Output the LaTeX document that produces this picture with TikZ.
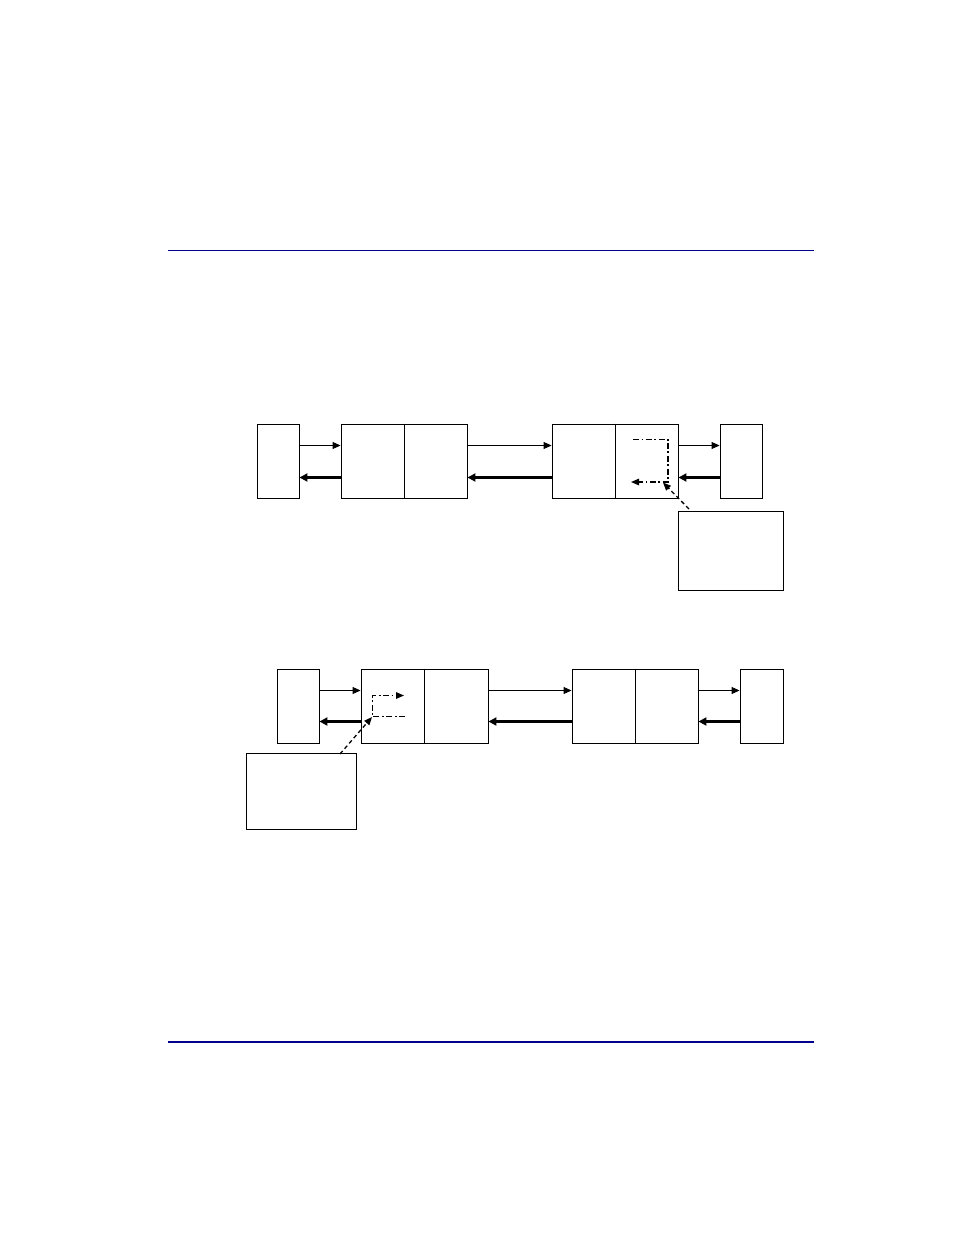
\documentclass[tikz,border=0pt]{standalone}
\usetikzlibrary{arrows.meta}
\definecolor{rulenavy}{RGB}{0,0,140}
\begin{document}
\begin{tikzpicture}[x=1pt,y=-1pt,
  box/.style={draw,line width=0.9pt,inner sep=0pt,minimum width=#1},
  box/.default=42pt,
  thinarr/.style={line width=0.9pt,-{Triangle[length=8pt,width=7pt]}},
  thickarr/.style={line width=2.2pt,-{Triangle[length=8pt,width=8pt]}},
  dashdot/.style={line width=1.4pt,dash pattern=on 6pt off 2.5pt on 1.8pt off 2.5pt,-{Triangle[length=8pt,width=6.5pt]}},
  callout/.style={line width=1.3pt,dash pattern=on 4pt off 3pt,-{Triangle[length=8pt,width=6.5pt]}},
  hrule/.style={draw=rulenavy,line width=1.1pt}]
\useasboundingbox (0,0) rectangle (954,1235);
% page rules
\coordinate (tl) at (168,250.5); \coordinate (tr) at (814,250.5);
\coordinate (bl) at (168,1042); \coordinate (br) at (814,1042);
\draw[hrule] (tl) -- (tr);
\draw[hrule] (bl) -- (br);

% ---------- diagram 1 ----------
\node[box=42pt,minimum height=74pt] (A1) at (278,461) {};
\node[box=126pt,minimum height=74pt] (B1) at (404,461) {};
\node[box=126pt,minimum height=74pt] (C1) at (615,461) {};
\node[box=42pt,minimum height=74pt] (D1) at (741,461) {};
\node[box=105pt,minimum height=79pt] (E1) at (730.5,550.5) {};
\draw[line width=0.9pt] (B1.north) -- (B1.south);
\draw[line width=0.9pt] (C1.north) -- (C1.south);
\coordinate (u1) at (0,445.5);
\coordinate (l1) at (0,477.5);
\draw[thinarr] (A1.east |- u1) -- (B1.west |- u1);
\draw[thinarr] (B1.east |- u1) -- (C1.west |- u1);
\draw[thinarr] (C1.east |- u1) -- (D1.west |- u1);
\draw[thickarr] (B1.west |- l1) -- (A1.east |- l1);
\draw[thickarr] (C1.west |- l1) -- (B1.east |- l1);
\draw[thickarr] (D1.west |- l1) -- (C1.east |- l1);
\coordinate (p1a) at (633,439.5);
\coordinate (p1b) at (668,439.5);
\coordinate (p1c) at (668,482);
\coordinate (p1d) at (631,482);
\draw[dashdot] (p1a) -- (p1b) -- (p1c) -- (p1d);
\coordinate (q1) at (689,509);
\coordinate (q1t) at (663,482.5);
\draw[callout] (q1) -- (q1t);

% ---------- diagram 2 ----------
\node[box=42pt,minimum height=74pt] (A2) at (298,706) {};
\node[box=127pt,minimum height=74pt] (B2) at (424.5,706) {};
\node[box=126pt,minimum height=74pt] (C2) at (635,706) {};
\node[box=43pt,minimum height=74pt] (D2) at (761.5,706) {};
\node[box=110pt,minimum height=76pt] (E2) at (301,791) {};
\draw[line width=0.9pt] (B2.north) -- (B2.south);
\draw[line width=0.9pt] (C2.north) -- (C2.south);
\coordinate (u2) at (0,690.5);
\coordinate (l2) at (0,721.5);
\draw[thinarr] (A2.east |- u2) -- (B2.west |- u2);
\draw[thinarr] (B2.east |- u2) -- (C2.west |- u2);
\draw[thinarr] (C2.east |- u2) -- (D2.west |- u2);
\draw[thickarr] (B2.west |- l2) -- (A2.east |- l2);
\draw[thickarr] (C2.west |- l2) -- (B2.east |- l2);
\draw[thickarr] (D2.west |- l2) -- (C2.east |- l2);
\coordinate (p2a) at (405,716.5);
\coordinate (p2b) at (372.5,716.5);
\coordinate (p2c) at (372.5,695.5);
\coordinate (p2d) at (404,695.5);
\draw[dashdot] (p2a) -- (p2b) -- (p2c) -- (p2d);
\coordinate (q2) at (340,754);
\coordinate (q2t) at (372,717);
\draw[callout] (q2) -- (q2t);
\end{tikzpicture}
\end{document}
